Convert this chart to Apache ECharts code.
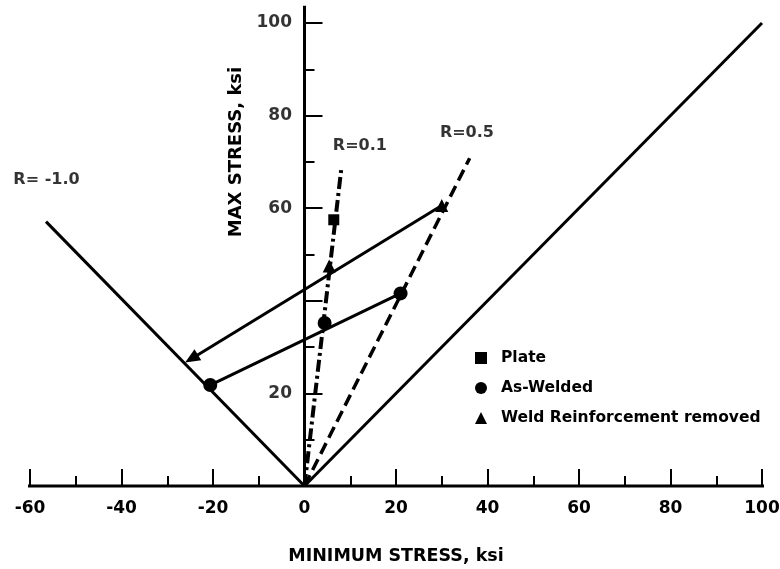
<!DOCTYPE html>
<html>
<head>
<meta charset="utf-8">
<script src="https://cdn.jsdelivr.net/npm/echarts@6/dist/echarts.min.js"></script>
<style>
  html, body { margin: 0; padding: 0; background: #fff; }
  #chart { width: 780px; height: 569px; }
</style>
</head>
<body>
<div id="chart"></div>
<script>
// values (ksi)
var plate = [[6.4, 57.5]]
var asWelded = [[4.4, 35.2], [21.0, 41.6], [-20.6, 21.8]]
var weldRemoved = [[5.4, 47.5], [30.0, 60.6]]
var weldedLink = [[21.0, 41.6], [-20.6, 21.8]]
var removedArrow = [[30.0, 60.6], [-24.7, 27.5]]

var lineRminus1 = [[0, 0], [-56.5, 57.1]]
var lineR1 = [[0, 0], [100, 100]]
var lineR01 = [[0, 0], [8.1, 69.0]]
var lineR05 = [[0, 0], [36.1, 70.8]]

var rLabels = ['R= -1.0', 'R=0.1', 'R=0.5']
var rLabelAt = [[-56.4, 66.1], [12.1, 73.5], [35.5, 76.2]]

// the 40 label is not printed in the original
var yTickLabels = [20, 60, 80, 100]
var xAxisEnds = [[-64.3, 0], [100.9, 0]]
var yAxisEnds = [[0, 0], [0, 103.7]]

var FONT = 'DejaVu Sans'
var INK = '#000'

var chart = echarts.init(document.getElementById('chart'))

var solid = function (name, data) {
  return {
    name: name,
    type: 'line',
    data: data,
    symbol: 'none',
    clip: false,
    silent: true,
    lineStyle: { color: INK, width: 3 },
    z: 3
  }
}

var marker = function (name, symbol, size, data) {
  return {
    name: name,
    type: 'scatter',
    symbol: symbol,
    symbolSize: size,
    itemStyle: { color: INK, opacity: 1 },
    data: data,
    z: 5
  }
}

chart.setOption({
  animation: false,
  backgroundColor: '#fff',
  grid: { left: 30, right: 18, top: 23, bottom: 83, outerBoundsMode: 'none', containLabel: false },
  legend: {
    data: ['Plate', 'As-Welded', 'Weld Reinforcement removed'],
    orient: 'vertical',
    left: 470,
    top: 345,
    itemWidth: 12,
    itemHeight: 12,
    itemGap: 14,
    selectedMode: false,
    textStyle: { fontFamily: FONT, fontSize: 15.5, fontWeight: 'bold', color: INK, padding: [0, 0, 0, 9] }
  },
  graphic: [{
    type: 'text',
    x: 236,
    y: 152,
    rotation: Math.PI / 2,
    style: {
      text: 'MAX STRESS, ksi',
      fontFamily: FONT,
      fontSize: 18,
      fontWeight: 'bold',
      fill: INK,
      textAlign: 'center',
      textVerticalAlign: 'middle'
    }
  }],
  xAxis: {
    type: 'value',
    min: -60,
    max: 100,
    interval: 20,
    name: 'MINIMUM STRESS, ksi',
    nameLocation: 'middle',
    nameGap: 61,
    nameTextStyle: { fontFamily: FONT, fontSize: 17.5, fontWeight: 'bold', color: INK },
    axisLine: { onZero: true, lineStyle: { color: INK, width: 2 } },
    axisTick: { inside: true, length: 17, lineStyle: { color: INK, width: 2 } },
    minorTick: { show: true, splitNumber: 2, length: 10, lineStyle: { color: INK, width: 2 } },
    axisLabel: { margin: 14, fontFamily: FONT, fontSize: 17, fontWeight: 'bold', color: INK },
    splitLine: { show: false }
  },
  yAxis: {
    type: 'value',
    min: 0,
    max: 100,
    interval: 20,
    axisLine: { onZero: true, lineStyle: { color: INK, width: 2 } },
    axisTick: { inside: true, length: 18, lineStyle: { color: INK, width: 2 } },
    minorTick: { show: true, splitNumber: 2, length: 10, lineStyle: { color: INK, width: 2 } },
    axisLabel: { show: false },
    splitLine: { show: false }
  },
  series: [
    solid('xaxis', xAxisEnds),
    solid('yaxis', yAxisEnds),
    solid('R=-1.0', lineRminus1),
    solid('R=1', lineR1),
    {
      name: 'R=0.1',
      type: 'line',
      data: lineR01,
      symbol: 'none',
      silent: true,
      lineStyle: { color: INK, width: 4, type: [12, 4, 3, 4] },
      z: 3
    },
    {
      name: 'R=0.5',
      type: 'line',
      data: lineR05,
      symbol: 'none',
      silent: true,
      lineStyle: { color: INK, width: 3.5, type: [12, 6] },
      z: 3
    },
    solid('welded link', weldedLink),
    {
      name: 'removed arrow',
      type: 'line',
      data: [],
      silent: true,
      markLine: {
        silent: true,
        symbol: ['none', 'triangle'],
        symbolSize: [13, 15],
        label: { show: false },
        lineStyle: { color: INK, width: 3, type: 'solid' },
        data: [[{ coord: removedArrow[0] }, { coord: removedArrow[1] }]]
      },
      z: 3
    },
    marker('Plate', 'rect', 11, plate),
    marker('As-Welded', 'circle', 14, asWelded),
    marker('Weld Reinforcement removed', 'triangle', 13, weldRemoved),
    {
      name: 'y labels',
      type: 'scatter',
      symbolSize: 1,
      silent: true,
      itemStyle: { color: 'rgba(0,0,0,0)' },
      data: yTickLabels.map(function (v) { return [0, v] }),
      label: {
        show: true,
        position: 'left',
        distance: 12,
        fontFamily: FONT,
        fontSize: 17,
        fontWeight: 'bold',
        color: INK,
        formatter: function (p) { return String(p.value[1]) }
      },
      z: 6
    },
    {
      name: 'R labels',
      type: 'scatter',
      symbolSize: 1,
      silent: true,
      itemStyle: { color: 'rgba(0,0,0,0)' },
      data: rLabelAt,
      label: {
        show: true,
        position: 'inside',
        fontFamily: FONT,
        fontSize: 16,
        fontWeight: 'bold',
        color: INK,
        formatter: function (p) { return rLabels[p.dataIndex] }
      },
      z: 6
    }
  ]
})
</script>
</body>
</html>
